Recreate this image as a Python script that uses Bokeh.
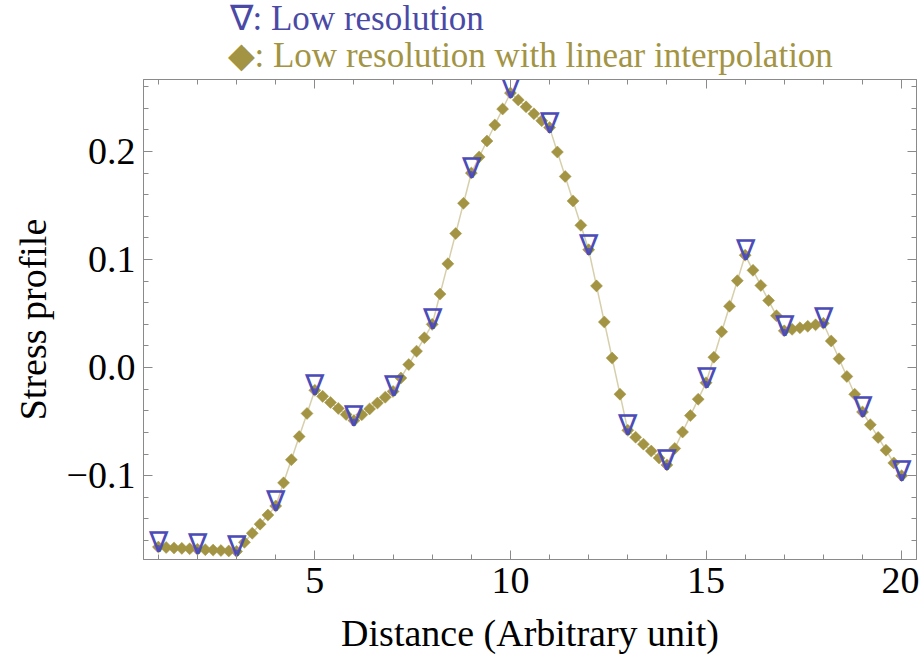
from bokeh.plotting import figure
from bokeh.layouts import column
from bokeh.models import (Range1d, LinearAxis, FixedTicker, CustomJSTickFormatter,
                          Label, ColumnDataSource)
from bokeh.core.properties import value
from bokeh.embed import file_html
from bokeh.resources import INLINE

# ---- data ----
low_x = [1, 2, 3, 4, 5, 6, 7, 8, 9, 10, 11, 12, 13, 14, 15, 16, 17, 18, 19, 20]
low_y = [-0.166, -0.168, -0.170, -0.128, -0.021, -0.049, -0.022, 0.040, 0.180, 0.254,
         0.222, 0.109, -0.058, -0.090, -0.014, 0.104, 0.034, 0.041, -0.041, -0.100]

interp_x = [1.0, 1.2, 1.4, 1.6, 1.8, 2.0, 2.2, 2.4, 2.6, 2.8,
            3.0, 3.2, 3.4, 3.6, 3.8, 4.0, 4.2, 4.4, 4.6, 4.8,
            5.0, 5.2, 5.4, 5.6, 5.8, 6.0, 6.2, 6.4, 6.6, 6.8,
            7.0, 7.2, 7.4, 7.6, 7.8, 8.0, 8.2, 8.4, 8.6, 8.8,
            9.0, 9.2, 9.4, 9.6, 9.8, 10.0, 10.2, 10.4, 10.6, 10.8,
            11.0, 11.2, 11.4, 11.6, 11.8, 12.0, 12.2, 12.4, 12.6, 12.8,
            13.0, 13.2, 13.4, 13.6, 13.8, 14.0, 14.2, 14.4, 14.6, 14.8,
            15.0, 15.2, 15.4, 15.6, 15.8, 16.0, 16.2, 16.4, 16.6, 16.8,
            17.0, 17.2, 17.4, 17.6, 17.8, 18.0, 18.2, 18.4, 18.6, 18.8,
            19.0, 19.2, 19.4, 19.6, 19.8, 20.0]
interp_y = [-0.166, -0.1664, -0.1668, -0.1672, -0.1676,
            -0.168, -0.1684, -0.1688, -0.1692, -0.1696,
            -0.170, -0.1616, -0.1532, -0.1448, -0.1364,
            -0.128, -0.1066, -0.0852, -0.0638, -0.0424,
            -0.021, -0.0266, -0.0322, -0.0378, -0.0434,
            -0.049, -0.0436, -0.0382, -0.0328, -0.0274,
            -0.022, -0.0096, 0.0028, 0.0152, 0.0276,
            0.040, 0.068, 0.096, 0.124, 0.152,
            0.180, 0.1948, 0.2096, 0.2244, 0.2392,
            0.254, 0.2476, 0.2412, 0.2348, 0.2284,
            0.222, 0.1994, 0.1768, 0.1542, 0.1316,
            0.109, 0.0756, 0.0422, 0.0088, -0.0246,
            -0.058, -0.0644, -0.0708, -0.0772, -0.0836,
            -0.090, -0.0748, -0.0596, -0.0444, -0.0292,
            -0.014, 0.0096, 0.0332, 0.0568, 0.0804,
            0.104, 0.090, 0.076, 0.062, 0.048,
            0.034, 0.0354, 0.0368, 0.0382, 0.0396,
            0.041, 0.0246, 0.0082, -0.0082, -0.0246,
            -0.041, -0.0528, -0.0646, -0.0764, -0.0882,
            -0.100]

x_major = [5, 10, 15, 20]
x_minor = [1, 2, 3, 4, 6, 7, 8, 9, 11, 12, 13, 14, 16, 17, 18, 19]
y_major = [-0.1, 0.0, 0.1, 0.2]
y_minor = [-0.16, -0.14, -0.12, -0.08, -0.06, -0.04, -0.02, 0.02, 0.04, 0.06, 0.08,
           0.12, 0.14, 0.16, 0.18, 0.22, 0.24, 0.26]

legend_low = "\u2207: Low resolution"
legend_interp = "\u25c6: Low resolution with linear interpolation"

BLUE = "#4c4cb8"
BLUE_TEXT = "#4a4aa6"
OLIVE = "#a39444"
FRAME = "#8a8a8a"
FONT = "Liberation Serif"

# ---- legend strip above the plot (range = canvas pixels) ----
leg = figure(width=919, height=79, x_range=Range1d(143, 916), y_range=Range1d(0, 79),
             output_backend="svg", toolbar_location=None,
             min_border_left=143, min_border_right=3, min_border_top=0, min_border_bottom=0,
             x_axis_location=None, y_axis_location=None)
leg.grid.visible = False
leg.outline_line_color = None
leg.background_fill_color = "white"
leg.border_fill_color = "white"
leg.add_layout(Label(x=229, y=61, text=legend_low, text_font=FONT,
                     text_font_size="35px", text_color=BLUE_TEXT,
                     text_baseline="alphabetic"))
leg.add_layout(Label(x=227, y=24, text=legend_interp, text_font=FONT,
                     text_font_size="35px", text_color=OLIVE,
                     text_baseline="alphabetic"))

# ---- main plot ----
p = figure(width=919, height=578,
           x_range=Range1d(0.62, 20.38), y_range=Range1d(-0.1775, 0.2665),
           output_backend="svg", toolbar_location=None,
           min_border_left=143, min_border_right=3, min_border_top=0, min_border_bottom=98,
           x_axis_label="Distance (Arbitrary unit)", y_axis_label="Stress profile")
p.grid.visible = False
p.outline_line_color = FRAME
p.background_fill_color = "white"
p.border_fill_color = "white"

bottom_ax = p.below[0]
left_ax = p.left[0]
bottom_ax.ticker = FixedTicker(ticks=x_major, minor_ticks=x_minor)
left_ax.ticker = FixedTicker(ticks=y_major, minor_ticks=y_minor)
left_ax.formatter = CustomJSTickFormatter(code="""
if (Math.abs(tick) < 1e-9) { return "0.0"; }
return (tick < 0 ? "\\u2212" : "") + Math.abs(tick).toFixed(1);
""")

top_ax = LinearAxis(ticker=FixedTicker(ticks=x_major, minor_ticks=x_minor),
                    formatter=CustomJSTickFormatter(code="return '';"))
right_ax = LinearAxis(ticker=FixedTicker(ticks=y_major, minor_ticks=y_minor),
                      formatter=CustomJSTickFormatter(code="return '';"))
p.add_layout(top_ax, "above")
p.add_layout(right_ax, "right")

for ax in [bottom_ax, left_ax, top_ax, right_ax]:
    ax.axis_line_color = FRAME
    ax.major_tick_line_color = FRAME
    ax.minor_tick_line_color = FRAME
    ax.major_tick_in = 9
    ax.major_tick_out = 0
    ax.minor_tick_in = 5
    ax.minor_tick_out = 0
    ax.major_label_text_font = FONT
    ax.major_label_text_font_size = "38px"
    ax.major_label_text_color = "black"
    ax.axis_label_text_font = FONT
    ax.axis_label_text_font_size = "38px"
    ax.axis_label_text_font_style = "normal"
    ax.axis_label_text_color = "black"

bottom_ax.major_label_standoff = 8
bottom_ax.axis_label_standoff = 16
left_ax.major_label_standoff = 8
left_ax.axis_label_standoff = 10
top_ax.major_label_standoff = 0
right_ax.major_label_standoff = 0
top_ax.major_label_text_font_size = "1px"
right_ax.major_label_text_font_size = "1px"

src_i = ColumnDataSource(dict(x=interp_x, y=interp_y))
src_l = ColumnDataSource(dict(x=low_x, y=low_y, mark=["\u2207"] * len(low_x)))

p.line("x", "y", source=src_i, line_color=OLIVE, line_alpha=0.45, line_width=1.5)
p.scatter("x", "y", source=src_i, marker="square", angle=0.785398, size=8.5,
          fill_color=OLIVE, line_color=OLIVE, line_width=0.5)
p.text("x", "y", text="mark", source=src_l, text_font=value(FONT),
       text_font_size="29px", text_align="center", text_baseline="alphabetic",
       text_color=BLUE, y_offset=-5)
p.scatter("x", "y", source=src_l, marker="circle", size=4,
          fill_color=BLUE, line_color=None, fill_alpha=0.8)

layout = column(leg, p, spacing=0)
open("out.html", "w").write(file_html(layout, INLINE))
